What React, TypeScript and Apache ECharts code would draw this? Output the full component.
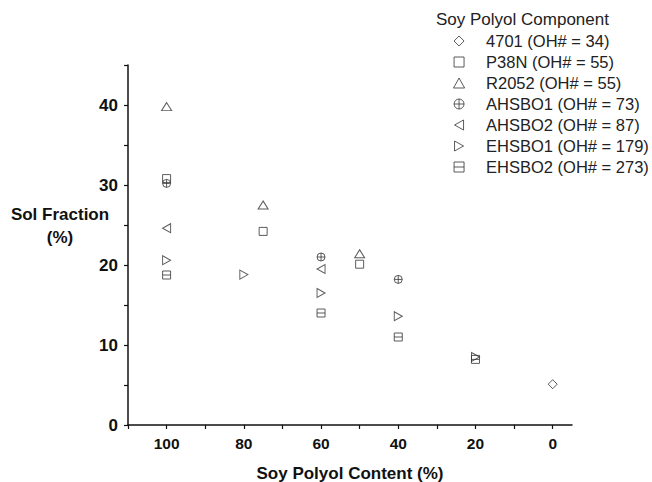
import React, { useEffect, useRef } from "react";
import * as echarts from "echarts";

const seriesNames = [
  "4701 (OH# = 34)",
  "P38N (OH# = 55)",
  "R2052 (OH# = 55)",
  "AHSBO1 (OH# = 73)",
  "AHSBO2 (OH# = 87)",
  "EHSBO1 (OH# = 179)",
  "EHSBO2 (OH# = 273)",
];

const data4701 = [[0, 5.1]];
const dataP38N = [[100, 30.8], [75, 24.2], [50, 20.1]];
const dataR2052 = [[100, 39.8], [75, 27.5], [50, 21.4]];
const dataAHSBO1 = [[100, 30.2], [60, 21.0], [40, 18.2]];
const dataAHSBO2 = [[100, 24.6], [60, 19.5]];
const dataEHSBO1 = [[100, 20.6], [80, 18.8], [60, 16.5], [40, 13.6], [20, 8.5]];
const dataEHSBO2 = [[100, 18.75], [60, 14.0], [40, 11.0], [20, 8.2]];

const xTickLabels = [100, 80, 60, 40, 20, 0];
const xTicks = [110, 100, 90, 80, 70, 60, 50, 40, 30, 20, 10, 0];
const yTickLabels = [0, 10, 20, 30, 40];
const yTicks = [0, 5, 10, 15, 20, 25, 30, 35, 40, 45];

const symbols = [
  { symbol: "path://M5 0L10 5L5 10L0 5Z", size: [9, 9] },
  { symbol: "path://M0 0L10 0L10 10L0 10Z", size: [8, 8] },
  { symbol: "path://M5 0L10 9L0 9Z", size: [10, 8] },
  { symbol: "path://M5 0A5 5 0 1 1 5 10A5 5 0 1 1 5 0ZM0 5L10 5M5 0L5 10", size: [8, 8] },
  { symbol: "path://M9 0L9 10L0 5Z", size: [8, 9] },
  { symbol: "path://M0 0L9 5L0 10Z", size: [8, 9] },
  { symbol: "path://M0 0L10 0L10 10L0 10ZM0 5L10 5", size: [8, 8] },
];

const allData = [data4701, dataP38N, dataR2052, dataAHSBO1, dataAHSBO2, dataEHSBO1, dataEHSBO2];

const FONT = "'Liberation Sans', Arial, Helvetica, sans-serif";

export default function App() {
  const ref = useRef<HTMLDivElement>(null);
  useEffect(() => {
    if (!ref.current) return;
    const chart = echarts.init(ref.current, undefined, { renderer: "svg" });
    const itemStyle = { color: "rgba(0,0,0,0)", borderColor: "#333", borderWidth: 1 };
    chart.setOption({
      animation: false,
      textStyle: { fontFamily: FONT },
      title: {
        text: "Soy Polyol Component",
        left: 436,
        top: 11,
        padding: 0,
        textStyle: { fontSize: 17, fontWeight: "normal", color: "#222", fontFamily: FONT },
      },
      legend: {
        data: seriesNames,
        orient: "vertical",
        left: 453,
        top: 32,
        padding: 0,
        itemWidth: 44,
        itemHeight: 10,
        itemGap: 3,
        selectedMode: false,
        itemStyle: { color: "rgba(0,0,0,0)", borderColor: "#333", borderWidth: 1 },
        textStyle: { fontSize: 16.5, color: "#222", fontFamily: FONT, lineHeight: 18 },
      },
      grid: { left: 128, right: 80, top: 65, bottom: 57, containLabel: false, outerBoundsMode: "none" },
      xAxis: {
        type: "value",
        inverse: true,
        min: -5,
        max: 110,
        name: "Soy Polyol Content (%)",
        nameLocation: "middle",
        nameGap: 40,
        nameTextStyle: { fontSize: 17, fontWeight: "bold", color: "#111", fontFamily: FONT },
        axisLine: { show: true, onZero: false, lineStyle: { color: "#111", width: 1.5 } },
        axisTick: { show: true, inside: false, length: 4, customValues: xTicks, lineStyle: { color: "#111", width: 1.2 } },
        axisLabel: { customValues: xTickLabels, fontSize: 15.5, fontWeight: "bold", color: "#111", margin: 10, fontFamily: FONT },
        splitLine: { show: false },
      },
      yAxis: {
        type: "value",
        min: 0,
        max: 45,
        axisLine: { show: true, onZero: false, lineStyle: { color: "#111", width: 1.5 } },
        axisTick: { show: true, inside: false, length: 4, customValues: yTicks, lineStyle: { color: "#111", width: 1.2 } },
        axisLabel: { customValues: yTickLabels, fontSize: 17, fontWeight: "bold", color: "#111", margin: 10, fontFamily: FONT },
        splitLine: { show: false },
      },
      graphic: [
        {
          type: "text",
          x: 60,
          y: 214,
          style: { text: "Sol Fraction", fill: "#111", align: "center", verticalAlign: "middle", font: `bold 17px ${FONT}` },
        },
        {
          type: "text",
          x: 60,
          y: 237,
          style: { text: "(%)", fill: "#111", align: "center", verticalAlign: "middle", font: `bold 17px ${FONT}` },
        },
      ],
      series: allData.map((d, i) => ({
        type: "scatter",
        name: seriesNames[i],
        data: d,
        symbol: symbols[i].symbol,
        symbolSize: symbols[i].size,
        itemStyle,
        emphasis: { disabled: true },
      })),
    });
    return () => chart.dispose();
  }, []);
  return <div ref={ref} style={{ width: 652, height: 482, position: "absolute", left: 0, top: 0 }} />;
}
